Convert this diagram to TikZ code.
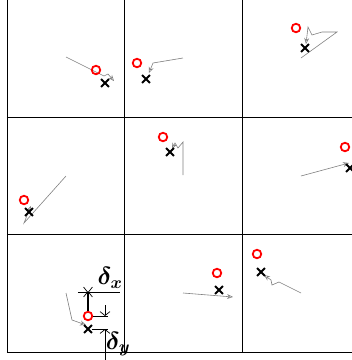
\documentclass[tikz,border=0pt]{standalone}
\usepackage{amsmath}
\usetikzlibrary{shapes.misc,arrows.meta}

\tikzset{
  est/.style={circle, draw=red, line width=1.8pt, minimum size=8.5pt, inner sep=0pt},
  truth/.style={cross out, draw=black, line width=1.8pt, minimum size=6pt, inner sep=0pt},
  track/.style={gray, line width=0.6pt, -{Stealth[open, length=6pt, width=5pt]}},
  dimline/.style={black, line width=0.7pt},
  dimarrow/.style={black, line width=0.7pt, -{Straight Barb[length=4pt, width=10pt]}},
  dimlabel/.style={font=\fontsize{27}{29}\selectfont\boldmath, inner sep=0pt}
}

\begin{document}
\begin{tikzpicture}[x=1pt, y=-1pt]
  \useasboundingbox (0,0) rectangle (352,360);

  % grid of cells
  \foreach \x in {7,124.5,242}
    \draw[line width=0.9pt] (\x,0) -- (\x,352);
  \foreach \y in {117,234.5,352}
    \draw[line width=0.9pt] (7,\y) -- (360,\y);

  % tracks from cell centres
  \draw[track] (66,57) -- (104,76) -- (108,74) -- (114,81);
  \draw[track] (183,58) -- (153,63) -- (149,73);
  \draw[track] (301,58) -- (337,32) -- (322,32) -- (312,35) -- (308,27) -- (306,44);
  \draw[track] (66,176) -- (24,223) -- (28,213) -- (31,206);
  \draw[track] (183,175) -- (183,142) -- (178,148) -- (175,143) -- (172,149);
  \draw[track] (301,176) -- (349,163);
  \draw[track] (66,293) -- (72,320) -- (86,325);
  \draw[track] (183,293) -- (233,297);
  \draw[track] (301,293) -- (279,282) -- (272,285) -- (271,280) -- (264,275);

  % estimates (red) and true positions (black)
  \node[est] (c00) at (96,70) {};   \node[truth] (x00) at (105,83) {};
  \node[est] (c01) at (137,63) {};  \node[truth] (x01) at (146,79) {};
  \node[est] (c02) at (296,28) {};  \node[truth] (x02) at (305,48) {};
  \node[est] (c10) at (24,200) {};  \node[truth] (x10) at (29,212) {};
  \node[est] (c11) at (163,137) {}; \node[truth] (x11) at (170,152) {};
  \node[est] (c12) at (345,147) {}; \node[truth] (x12) at (350,168) {};
  \node[est] (c20) at (88,316) {};  \node[truth] (x20) at (88,329) {};
  \node[est] (c21) at (217,273) {}; \node[truth] (x21) at (219,290) {};
  \node[est] (c22) at (257,254) {}; \node[truth] (x22) at (261,272) {};

  % offset in x
  \coordinate (dxtop) at (88,292);
  \draw[line width=1.2pt] (c20.north) -- (dxtop);
  \draw[dimarrow] (78,292) -- (dxtop);
  \draw[dimarrow] (120,292) -- (dxtop);
  \node[dimlabel] (dx) at (110,278) {$\delta_x$};

  % offset in y
  \coordinate (dyest) at (108,316);
  \coordinate (dytrue) at (108,329);
  \draw[dimline] (c20.east) -- (dyest);
  \draw[dimline] (x20.east) -- (dytrue);
  \draw[dimarrow] (105,305) -- (105,316);
  \draw[dimarrow] (105,360) -- (105,329);
  \node[dimlabel] (dy) at (118,344) {$\delta_y$};
\end{tikzpicture}
\end{document}
